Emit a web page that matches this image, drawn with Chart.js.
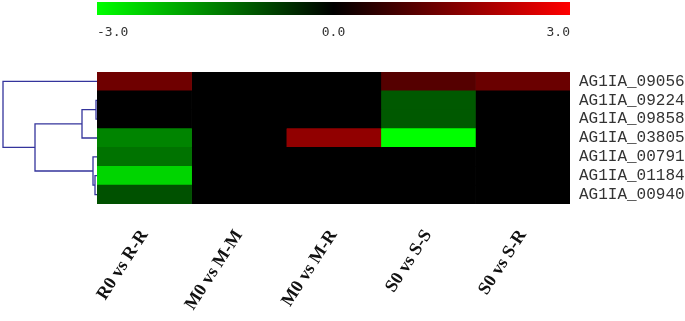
<!DOCTYPE html>
<html>
<head>
<meta charset="utf-8">
<script src="https://cdn.jsdelivr.net/npm/chart.js@4.4.1/dist/chart.umd.min.js"></script>
<style>
  html, body { margin: 0; padding: 0; background: #fff; }
  #wrap { width: 685px; height: 321px; }
</style>
</head>
<body>
<div id="wrap"><canvas id="heatmap" width="685" height="321"></canvas></div>
<script>
const genes = ['AG1IA_09056', 'AG1IA_09224', 'AG1IA_09858', 'AG1IA_03805', 'AG1IA_00791', 'AG1IA_01184', 'AG1IA_00940'];
const comparisons = ['R0 vs R-R', 'M0 vs M-M', 'M0 vs M-R', 'S0 vs S-S', 'S0 vs S-R'];

// log2 fold change per comparison, one value per gene (top to bottom)
const rrValues = [1.3, 0, 0, -1.55, -1.35, -2.5, -0.95];
const mmValues = [0, 0, 0, 0, 0, 0, 0];
const mrValues = [0, 0, 0, 1.7, 0, 0, 0];
const ssValues = [1.0, -1.05, -1.05, -3.0, 0, 0, 0];
const srValues = [1.25, 0, 0, 0, 0, 0, 0];

const colorbarTicks = [-3.0, 0.0, 3.0];

// dendrogram: leaves 0..6, merges numbered 7..12
const mergeLeft = [1, 5, 4, 7, 10, 0];
const mergeRight = [2, 6, 8, 3, 9, 11];
const mergeHeight = [1, 2, 4, 15, 62, 94];

const columnValues = [rrValues, mmValues, mrValues, ssValues, srValues];
const vmax = 3.0;

function valueColor(v) {
    const t = Math.min(1, Math.abs(v) / vmax);
    const c = Math.round(255 * t);
    return v >= 0 ? `rgb(${c},0,0)` : `rgb(0,${c},0)`;
}

const datasets = columnValues.map((vals, i) => ({
    label: comparisons[i],
    data: vals.map(() => 1),
    backgroundColor: vals.map(valueColor),
    borderWidth: 0,
    barPercentage: 1,
    categoryPercentage: 1
}));

const colorbarPlugin = {
    id: 'colorbar',
    afterDraw(chart) {
        const ctx = chart.ctx;
        const { left, right } = chart.chartArea;
        const top = 2, h = 13;
        const grad = ctx.createLinearGradient(left, 0, right, 0);
        grad.addColorStop(0, valueColor(-vmax));
        grad.addColorStop(0.5, valueColor(0));
        grad.addColorStop(1, valueColor(vmax));
        ctx.save();
        ctx.fillStyle = grad;
        ctx.fillRect(left, top, right - left, h);
        ctx.fillStyle = '#333';
        ctx.font = '13px "DejaVu Sans Mono"';
        ctx.textBaseline = 'middle';
        colorbarTicks.forEach((t, i) => {
            const x = left + (t + vmax) / (2 * vmax) * (right - left);
            ctx.textAlign = i === 0 ? 'left' : (i === colorbarTicks.length - 1 ? 'right' : 'center');
            ctx.fillText(t.toFixed(1), x, 33);
        });
        ctx.restore();
    }
};

const dendroPlugin = {
    id: 'dendro',
    afterDraw(chart) {
        const ctx = chart.ctx;
        const yScale = chart.scales.y;
        const x0 = chart.chartArea.left;
        const xMin = 3;
        const hMax = Math.max(...mergeHeight);
        const xOf = h => x0 - h / hMax * (x0 - xMin);
        const nodeY = genes.map((g, i) => yScale.getPixelForValue(i));
        const nodeH = genes.map(() => 0);
        ctx.save();
        ctx.strokeStyle = '#34349c';
        ctx.lineWidth = 1.3;
        ctx.beginPath();
        mergeLeft.forEach((a, k) => {
            const b = mergeRight[k];
            const x = xOf(mergeHeight[k]);
            ctx.moveTo(xOf(nodeH[a]), nodeY[a]);
            ctx.lineTo(x, nodeY[a]);
            ctx.lineTo(x, nodeY[b]);
            ctx.lineTo(xOf(nodeH[b]), nodeY[b]);
            nodeY.push((nodeY[a] + nodeY[b]) / 2);
            nodeH.push(mergeHeight[k]);
        });
        ctx.stroke();
        ctx.restore();
    }
};

new Chart(document.getElementById('heatmap'), {
    type: 'bar',
    data: { labels: genes, datasets: datasets },
    options: {
        indexAxis: 'y',
        responsive: false,
        animation: false,
        layout: { padding: { left: 97, top: 72, right: 0, bottom: 0 } },
        plugins: { legend: { display: false }, tooltip: { enabled: false } },
        scales: {
            x: {
                type: 'linear',
                stacked: true,
                min: 0,
                max: comparisons.length,
                grid: { display: false, drawTicks: false },
                border: { display: false },
                afterBuildTicks: axis => {
                    axis.ticks = comparisons.map((c, i) => ({ value: i + 0.5 }));
                },
                afterFit: axis => { axis.height = 117; },
                ticks: {
                    autoSkip: false,
                    minRotation: 57,
                    maxRotation: 57,
                    padding: 22,
                    color: '#111',
                    font: { family: '"Liberation Serif"', size: 18, weight: 'bold' },
                    callback: (v, i) => comparisons[i]
                }
            },
            y: {
                stacked: true,
                position: 'right',
                grid: { display: false, drawTicks: false },
                border: { display: false },
                afterFit: axis => { axis.width = 115; },
                ticks: {
                    autoSkip: false,
                    padding: 9,
                    color: '#333',
                    font: { family: '"Liberation Mono"', size: 16 }
                }
            }
        }
    },
    plugins: [colorbarPlugin, dendroPlugin]
});
</script>
</body>
</html>
